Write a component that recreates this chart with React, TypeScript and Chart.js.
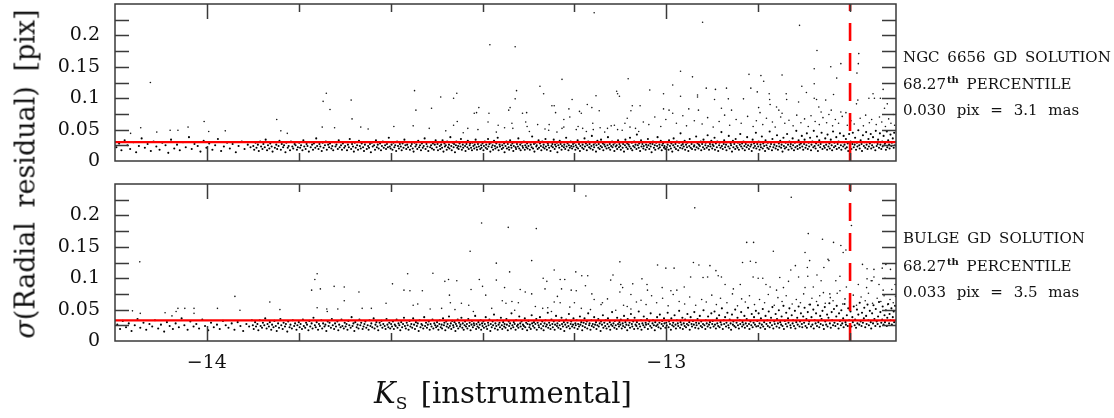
import React, { useEffect, useRef } from "react";
import { Chart, registerables } from "chart.js";

Chart.register(...registerables);

// ---- axis ranges and ticks ----
const X_MIN = -14.2;
const X_MAX = -12.5;
const Y_MIN = 0;
const Y_MAX = 0.25;
const X_LABEL_TICKS = [-14, -13];
const X_MINOR_TICKS = [-14.0, -13.8, -13.6, -13.4, -13.2, -13.0, -12.8, -12.6];
const Y_LABEL_TICKS = [0, 0.05, 0.1, 0.15, 0.2];
const Y_MINOR_TICKS = [0.025, 0.05, 0.075, 0.1, 0.125, 0.15, 0.175, 0.2, 0.225];

// ---- reference values ----
const TOP_PERCENTILE = 0.03;
const BOTTOM_PERCENTILE = 0.033;
const MAG_LIMIT = -12.6;

// packed points: pairs of [milli-mag offset from X_ORIGIN, sigma in milli-pix]
const X_ORIGIN = -14.2;

const TOP_BAND = [
  3,22, 9,28, 14,17, 21,33, 27,25, 33,19, 40,30, 46,14, 52,24, 58,36, 65,21, 71,27, 78,16, 84,31, 90,23, 97,18, 103,29, 110,25, 116,13, 122,34, 129,20, 135,26, 141,17, 148,30, 154,22, 161,38, 167,19, 173,27, 180,24, 186,15, 193,32, 199,21, 205,28, 212,18, 218,25, 224,35, 231,16, 237,23, 244,29, 250,20, 256,27, 263,14, 269,24, 276,31, 282,19, 289,26, 295,22,
  301,24, 303,18, 306,29, 308,21, 311,26, 313,16, 316,31, 318,23, 321,19, 323,27, 326,22, 328,34, 331,17, 333,25, 336,20, 338,28, 341,23, 343,15, 346,30, 348,21, 351,26, 353,19, 356,24, 358,32, 361,18, 363,27, 366,22, 368,25, 371,14, 373,29, 376,21, 378,24, 381,17, 383,31, 386,23, 388,20, 391,27, 393,25, 396,18, 398,22,
  401,29, 403,21, 405,25, 408,17, 410,33, 412,23, 415,19, 417,27, 419,24, 422,15, 424,30, 426,22, 429,26, 431,18, 433,28, 436,21, 438,36, 440,24, 443,19, 445,27, 447,23, 450,16, 452,29, 454,21, 457,25, 459,31, 461,18, 464,26, 466,22, 468,28, 471,20, 473,24, 475,17, 478,30, 480,23, 482,26, 485,19, 487,33, 489,22, 492,25, 494,18, 496,28, 499,21,
  501,24, 503,30, 505,17, 507,26, 509,22, 511,35, 514,19, 516,27, 518,23, 520,15, 522,29, 524,21, 527,25, 529,18, 531,32, 533,24, 535,20, 537,28, 540,22, 542,16, 544,26, 546,30, 548,19, 551,24, 553,21, 555,27, 557,14, 559,29, 561,23, 564,25, 566,18, 568,33, 570,22, 572,26, 574,20, 577,28, 579,17, 581,24, 583,31, 585,21, 588,25, 590,19, 592,27, 594,22, 596,37, 598,23,
  600,20, 602,26, 604,18, 606,29, 608,22, 610,25, 612,16, 614,31, 616,24, 618,20, 620,27, 622,23, 624,17, 626,28, 628,21, 630,34, 632,25, 634,19, 636,26, 638,22, 640,30, 642,18, 644,24, 646,27, 648,20, 650,15, 652,29, 654,23, 656,26, 658,19, 660,32, 662,22, 664,25, 666,17, 668,28, 670,21, 672,24, 674,36, 676,19, 678,27, 680,23, 682,16, 684,30, 686,22, 688,25, 690,20, 692,28, 694,18, 696,26, 698,33,
  700,22, 702,27, 703,17, 705,30, 707,24, 708,19, 710,26, 712,21, 713,33, 715,15, 717,28, 718,23, 720,25, 722,18, 723,31, 725,22, 727,26, 728,20, 730,38, 732,24, 733,17, 735,29, 737,22, 738,27, 740,14, 742,25, 743,31, 745,21, 747,24, 748,19, 750,28, 752,23, 753,35, 755,18, 757,26, 758,21, 760,30, 762,24, 763,16, 765,27, 767,22, 768,32, 770,19, 772,25, 773,28, 775,21, 777,17, 778,29, 780,24, 782,20, 783,26, 785,34, 787,22, 788,18, 790,27, 792,23, 793,30, 795,19, 797,25, 798,21,
  800,28, 802,17, 803,24, 805,31, 807,21, 808,26, 810,19, 812,35, 813,23, 815,27, 817,15, 818,29, 820,22, 822,25, 823,18, 825,32, 827,24, 828,20, 830,28, 832,22, 833,37, 835,17, 837,26, 838,23, 840,30, 842,19, 843,25, 845,21, 847,28, 848,14, 850,24, 852,31, 853,20, 855,27, 857,22, 858,18, 860,33, 862,25, 863,21, 865,28, 867,16, 868,24, 870,30, 872,22, 873,19, 875,27, 877,23, 878,36, 880,20, 882,26, 883,17, 885,29, 887,24, 888,21, 890,31, 892,18, 893,25, 895,22, 897,28, 898,20,
  900,24, 902,30, 903,18, 905,26, 907,22, 908,39, 910,20, 912,27, 913,15, 915,29, 917,23, 918,25, 920,19, 922,33, 923,21, 925,28, 927,24, 928,17, 930,31, 932,22, 933,26, 935,20, 937,35, 938,23, 940,18, 942,28, 943,25, 945,21, 947,30, 948,16, 950,24, 952,27, 953,22, 955,34, 957,19, 958,26, 960,23, 962,29, 963,14, 965,25, 967,21, 968,32, 970,27, 972,18, 973,24, 975,30, 977,22, 978,26, 980,19, 982,37, 983,23, 985,28, 987,17, 988,25, 990,21, 992,31, 993,24, 995,20, 997,27, 998,23,
  1000,29, 1002,18, 1003,25, 1005,22, 1007,33, 1008,20, 1010,27, 1012,16, 1013,24, 1015,30, 1017,21, 1018,26, 1020,19, 1022,36, 1023,23, 1025,28, 1027,17, 1028,25, 1030,31, 1032,22, 1033,27, 1035,20, 1037,24, 1038,40, 1040,18, 1042,26, 1043,22, 1045,29, 1047,15, 1048,25, 1050,32, 1052,21, 1053,27, 1055,19, 1057,24, 1058,34, 1060,22, 1062,28, 1063,17, 1065,26, 1067,23, 1068,30, 1070,20, 1072,25, 1073,38, 1075,21, 1077,27, 1078,18, 1080,24, 1082,31, 1083,22, 1085,26, 1087,16, 1088,29, 1090,23, 1092,25, 1093,19, 1095,33, 1097,22, 1098,27,
  1100,24, 1101,18, 1103,30, 1105,21, 1106,27, 1108,15, 1110,25, 1111,34, 1113,22, 1115,28, 1116,19, 1118,26, 1120,23, 1121,37, 1123,20, 1125,29, 1126,17, 1128,24, 1130,31, 1131,22, 1133,26, 1135,19, 1136,42, 1138,25, 1140,21, 1141,28, 1143,16, 1145,33, 1146,23, 1148,27, 1150,20, 1151,24, 1153,30, 1155,18, 1156,26, 1158,22, 1160,35, 1161,25, 1163,19, 1165,28, 1166,23, 1168,14, 1170,27, 1171,31, 1173,21, 1175,25, 1176,18, 1178,29, 1180,24, 1181,38, 1183,20, 1185,26, 1186,22, 1188,32, 1190,17, 1191,25, 1193,28, 1195,21, 1196,24, 1198,19,
  1200,30, 1201,22, 1203,26, 1205,18, 1206,33, 1208,24, 1210,20, 1211,28, 1213,15, 1215,25, 1216,36, 1218,22, 1220,27, 1221,19, 1223,31, 1225,24, 1226,17, 1228,29, 1230,21, 1231,44, 1233,25, 1235,20, 1236,27, 1238,23, 1240,32, 1241,18, 1243,26, 1245,22, 1246,29, 1248,16, 1250,24, 1251,35, 1253,21, 1255,27, 1256,19, 1258,30, 1260,23, 1261,25, 1263,18, 1265,39, 1266,22, 1268,28, 1270,20, 1271,26, 1273,24, 1275,31, 1276,17, 1278,27, 1280,22, 1281,34, 1283,19, 1285,25, 1286,29, 1288,21, 1290,41, 1291,24, 1293,18, 1295,27, 1296,23, 1298,32,
  1300,20, 1301,26, 1303,24, 1305,37, 1306,18, 1308,28, 1310,22, 1311,31, 1313,16, 1315,25, 1316,29, 1318,21, 1320,46, 1321,24, 1323,19, 1325,27, 1326,33, 1328,22, 1330,26, 1331,17, 1333,30, 1335,23, 1336,40, 1338,20, 1340,28, 1341,25, 1343,15, 1345,32, 1346,22, 1348,27, 1350,19, 1351,35, 1353,24, 1355,21, 1356,29, 1358,18, 1360,26, 1361,43, 1363,23, 1365,28, 1366,20, 1368,31, 1370,24, 1371,17, 1373,27, 1375,22, 1376,38, 1378,25, 1380,19, 1381,30, 1383,23, 1385,26, 1386,16, 1388,34, 1390,21, 1391,28, 1393,24, 1395,45, 1396,20, 1398,27,
  1400,23, 1401,31, 1403,18, 1405,26, 1406,22, 1408,39, 1410,20, 1411,28, 1413,24, 1415,16, 1416,33, 1418,25, 1420,21, 1421,29, 1423,19, 1425,47, 1426,23, 1428,27, 1430,17, 1431,35, 1433,22, 1435,26, 1436,30, 1438,20, 1440,24, 1441,41, 1443,18, 1445,28, 1446,23, 1448,32, 1450,21, 1451,26, 1453,15, 1455,37, 1456,24, 1458,20, 1460,29, 1461,22, 1463,43, 1465,26, 1466,18, 1468,31, 1470,23, 1471,27, 1473,20, 1475,36, 1476,25, 1478,17, 1480,29, 1481,22, 1483,48, 1485,24, 1486,19, 1488,33, 1490,26, 1491,21, 1493,28, 1495,40, 1496,23, 1498,18,
  1500,27, 1501,34, 1503,21, 1505,25, 1506,44, 1508,19, 1510,29, 1511,23, 1513,37, 1515,17, 1516,26, 1518,31, 1520,22, 1521,48, 1523,24, 1525,20, 1526,28, 1528,39, 1530,16, 1531,25, 1533,33, 1535,22, 1536,27, 1538,45, 1540,19, 1541,30, 1543,24, 1545,21, 1546,36, 1548,26, 1550,18, 1551,42, 1553,23, 1555,28, 1556,20, 1558,34, 1560,25, 1561,17, 1563,47, 1565,22, 1566,29, 1568,24, 1570,38, 1571,19, 1573,27, 1575,31, 1576,21, 1578,44, 1580,25, 1581,18, 1583,30, 1585,23, 1586,40, 1588,26, 1590,20, 1591,35, 1593,22, 1595,28, 1596,16, 1598,43,
  1600,24, 1601,31, 1603,19, 1605,27, 1606,45, 1608,22, 1610,26, 1611,37, 1613,18, 1615,29, 1616,23, 1618,49, 1620,25, 1621,20, 1623,33, 1625,27, 1626,16, 1628,41, 1630,24, 1631,30, 1633,21, 1635,46, 1636,26, 1638,19, 1640,35, 1641,23, 1643,28, 1645,43, 1646,20, 1648,25, 1650,38, 1651,22, 1653,30, 1655,17, 1656,48, 1658,24, 1660,27, 1661,34, 1663,21, 1665,44, 1666,26, 1668,19, 1670,31, 1671,23, 1673,40, 1675,25, 1676,28, 1678,18, 1680,47, 1681,22, 1683,33, 1685,26, 1686,20, 1688,42, 1690,24, 1691,29, 1693,36, 1695,21, 1696,45, 1698,25,
];

const TOP_SPARSE = [
  77,125, 56,53, 194,63, 137,49, 159,54, 120,49, 352,66, 460,108, 453,95, 468,82, 514,97, 516,67, 535,54, 451,54, 478,53, 240,48, 91,46, 34,44, 204,47, 361,48, 375,44, 551,51,
  1043,236, 816,185, 871,182, 973,130, 1117,131, 652,112, 744,108, 737,100, 709,102, 874,112, 871,99, 925,119, 933,107, 995,98, 1092,111, 1094,107, 1098,103, 655,81, 689,84, 782,76, 787,77, 792,85, 814,76, 860,85, 857,81, 951,88, 956,88, 959,77, 887,76, 896,77, 988,83, 990,70, 977,66, 1011,79, 1015,76, 1028,90, 1038,85, 1047,104, 1054,80, 1126,88, 1123,80, 1115,68, 1121,54, 607,55, 649,56, 684,52, 745,63, 737,57, 768,52, 812,62, 834,57, 864,60, 866,52, 894,62, 897,55, 920,58, 945,58, 944,49, 973,52, 977,54, 1004,50, 1018,52, 1040,60, 1041,50, 1072,52, 1087,57, 1094,50,
  1279,221, 1490,216, 1528,176, 1619,171, 1618,155, 1580,155, 1558,150, 1615,140, 1522,147, 1571,132, 1522,123, 1231,143, 1257,134, 1380,138, 1406,136, 1412,127, 1452,137, 1214,121, 1164,113, 1194,107, 1287,116, 1307,114, 1331,116, 1384,116, 1398,110, 1268,105, 1268,102, 1231,103, 1305,98, 1335,99, 1368,99, 1495,119, 1505,109, 1522,100, 1527,98, 1547,97, 1564,106, 1461,107, 1462,98, 1424,107, 1425,98, 1488,94, 1426,90, 1440,86, 1650,107, 1653,100, 1641,100, 1672,114, 1666,100, 1675,84, 1681,91, 1617,97, 1614,91, 1143,88, 1194,83, 1206,81, 1214,76, 1249,83, 1270,81, 1320,84, 1342,81, 1401,85, 1404,77, 1445,81, 1452,76, 1532,86, 1537,78, 1559,81, 1580,78, 1591,77,
  1150,62, 1162,58, 1175,70, 1188,55, 1199,66, 1222,60, 1236,72, 1244,56, 1261,64, 1278,59, 1290,69, 1302,54, 1315,63, 1327,73, 1338,57, 1352,66, 1363,60, 1377,71, 1389,55, 1396,64, 1410,58, 1418,68, 1431,62, 1437,54, 1449,70, 1458,60, 1467,65, 1476,56, 1484,73, 1493,61, 1501,67, 1509,55, 1515,72, 1524,63, 1533,58, 1541,69, 1549,61, 1554,74, 1562,56, 1568,66, 1575,60, 1583,71, 1594,57, 1602,64, 1609,59, 1622,68, 1629,56, 1634,73, 1642,61, 1647,66, 1657,58, 1664,70, 1669,62, 1677,55, 1684,67, 1689,60, 1694,74, 1697,57,
  720,48, 758,45, 790,50, 830,46, 848,53, 902,47, 936,51, 962,46, 1008,55, 1026,47, 1056,53, 1066,46, 1080,56, 1104,49, 1110,60, 1133,52, 1140,47,
];

const BOTTOM_BAND = [
  5,26, 11,19, 17,32, 24,22, 30,28, 36,16, 43,25, 49,35, 55,21, 62,29, 68,18, 75,27, 81,23, 87,33, 94,20, 100,26, 107,15, 113,30, 119,24, 126,19, 132,28, 139,22, 145,36, 151,25, 158,18, 164,31, 171,23, 177,27, 183,20, 190,34, 196,24, 203,17, 209,29, 215,22, 222,26, 228,19, 235,32, 241,25, 247,21, 254,28, 260,18, 267,30, 273,24, 279,16, 286,27, 292,23, 298,33,
  300,25, 302,19, 305,30, 307,23, 310,27, 312,17, 315,33, 317,24, 320,21, 322,29, 325,25, 327,36, 330,20, 332,27, 335,23, 337,30, 340,18, 342,26, 345,22, 347,32, 350,24, 352,16, 355,28, 357,21, 360,35, 362,25, 365,19, 367,29, 370,23, 372,27, 375,15, 377,31, 380,22, 382,26, 385,20, 387,33, 390,24, 392,28, 395,18, 397,25,
  400,30, 402,22, 404,27, 407,19, 409,34, 411,24, 414,21, 416,29, 418,26, 421,17, 423,32, 425,23, 428,28, 430,20, 432,37, 435,25, 437,22, 439,30, 442,18, 444,27, 446,24, 449,33, 451,20, 453,28, 456,23, 458,26, 460,16, 463,31, 465,24, 467,29, 470,21, 472,35, 474,25, 477,19, 479,28, 481,23, 484,31, 486,17, 488,26, 491,22, 493,34, 495,24, 498,20,
  500,29, 502,23, 504,27, 506,18, 508,32, 510,25, 513,21, 515,38, 517,24, 519,28, 521,16, 523,30, 526,22, 528,26, 530,20, 532,34, 534,25, 536,29, 539,19, 541,23, 543,27, 545,31, 547,21, 550,25, 552,18, 554,33, 556,24, 558,28, 560,22, 563,36, 565,20, 567,26, 569,30, 571,23, 573,17, 576,29, 578,25, 580,32, 582,21, 584,27, 587,24, 589,19, 591,35, 593,26, 595,22, 597,29, 599,20,
  601,27, 603,23, 605,31, 607,19, 609,26, 611,24, 613,34, 615,21, 617,28, 619,25, 621,17, 623,30, 625,22, 627,27, 629,37, 631,24, 633,20, 635,29, 637,25, 639,18, 641,32, 643,23, 645,27, 647,21, 649,36, 651,26, 653,19, 655,30, 657,24, 659,28, 661,16, 663,33, 665,22, 667,27, 669,25, 671,20, 673,38, 675,24, 677,29, 679,21, 681,26, 683,31, 685,18, 687,27, 689,23, 691,34, 693,20, 695,28, 697,25, 699,22,
  701,30, 702,24, 704,18, 706,27, 707,33, 709,22, 711,26, 712,20, 714,36, 716,25, 717,29, 719,17, 721,31, 722,23, 724,27, 726,21, 727,39, 729,24, 731,28, 732,19, 734,32, 736,25, 737,22, 739,30, 741,16, 742,27, 744,24, 746,34, 747,20, 749,29, 751,23, 752,26, 754,37, 756,21, 757,28, 759,18, 761,25, 762,31, 764,23, 766,27, 767,20, 769,35, 771,24, 772,29, 774,17, 776,26, 777,32, 779,22, 781,28, 782,25, 784,40, 786,19, 787,27, 789,23, 791,30, 792,21, 794,26, 796,33, 797,18, 799,28,
  800,24, 802,31, 803,21, 805,27, 807,38, 808,23, 810,19, 812,29, 813,25, 815,34, 817,16, 818,27, 820,22, 822,31, 823,25, 825,42, 827,20, 828,28, 830,24, 832,33, 833,18, 835,26, 837,29, 838,22, 840,37, 842,25, 843,19, 845,30, 847,23, 848,27, 850,21, 852,35, 853,26, 855,17, 857,31, 858,24, 860,28, 862,20, 863,44, 865,25, 867,22, 868,30, 870,27, 872,18, 873,33, 875,24, 877,26, 878,21, 880,39, 882,28, 883,23, 885,31, 887,19, 888,26, 890,24, 892,36, 893,22, 895,29, 897,17, 898,27,
  900,32, 902,22, 903,26, 905,19, 907,41, 908,28, 910,24, 912,30, 913,21, 915,27, 917,35, 918,18, 920,29, 922,25, 923,22, 925,38, 927,27, 928,20, 930,31, 932,24, 933,17, 935,28, 937,33, 938,23, 940,26, 942,45, 943,21, 945,29, 947,25, 948,19, 950,34, 952,27, 953,22, 955,31, 957,18, 958,26, 960,40, 962,24, 963,28, 965,21, 967,32, 968,25, 970,19, 972,37, 973,27, 975,23, 977,30, 978,16, 980,26, 982,34, 983,22, 985,29, 987,24, 988,43, 990,20, 992,27, 993,31, 995,23, 997,26, 998,36,
  1000,21, 1002,28, 1003,25, 1005,33, 1007,19, 1008,27, 1010,23, 1012,39, 1013,26, 1015,30, 1017,17, 1018,24, 1020,29, 1022,36, 1023,22, 1025,27, 1027,31, 1028,20, 1030,44, 1032,25, 1033,28, 1035,18, 1037,33, 1038,24, 1040,27, 1042,22, 1043,38, 1045,26, 1047,30, 1048,19, 1050,25, 1052,35, 1053,23, 1055,28, 1057,16, 1058,31, 1060,26, 1062,41, 1063,21, 1065,29, 1067,24, 1068,33, 1070,20, 1072,27, 1073,36, 1075,23, 1077,30, 1078,18, 1080,26, 1082,46, 1083,24, 1085,28, 1087,21, 1088,32, 1090,25, 1092,19, 1093,37, 1095,27, 1097,23, 1098,30,
  1100,26, 1101,34, 1103,20, 1105,28, 1106,24, 1108,40, 1110,22, 1111,30, 1113,26, 1115,17, 1116,35, 1118,25, 1120,29, 1121,21, 1123,43, 1125,27, 1126,23, 1128,31, 1130,19, 1131,37, 1133,26, 1135,24, 1136,30, 1138,20, 1140,47, 1141,27, 1143,23, 1145,33, 1146,18, 1148,28, 1150,25, 1151,39, 1153,22, 1155,29, 1156,26, 1158,35, 1160,19, 1161,27, 1163,31, 1165,24, 1166,44, 1168,21, 1170,28, 1171,33, 1173,25, 1175,17, 1176,30, 1178,24, 1180,38, 1181,26, 1183,22, 1185,29, 1186,42, 1188,20, 1190,27, 1191,32, 1193,24, 1195,36, 1196,28, 1198,21,
  1200,29, 1201,25, 1203,45, 1205,22, 1206,31, 1208,27, 1210,18, 1211,36, 1213,25, 1215,29, 1216,23, 1218,41, 1220,26, 1221,20, 1223,33, 1225,28, 1226,24, 1228,48, 1230,21, 1231,30, 1233,26, 1235,37, 1236,19, 1238,28, 1240,24, 1241,34, 1243,22, 1245,27, 1246,43, 1248,25, 1250,30, 1251,18, 1253,38, 1255,27, 1256,23, 1258,32, 1260,26, 1261,46, 1263,21, 1265,29, 1266,25, 1268,35, 1270,20, 1271,28, 1273,40, 1275,24, 1276,31, 1278,22, 1280,27, 1281,49, 1283,25, 1285,19, 1286,33, 1288,28, 1290,23, 1291,39, 1293,26, 1295,30, 1296,21, 1298,44,
  1300,27, 1301,32, 1303,23, 1305,47, 1306,26, 1308,20, 1310,36, 1311,28, 1313,24, 1315,41, 1316,22, 1318,30, 1320,26, 1321,52, 1323,19, 1325,33, 1326,27, 1328,38, 1330,23, 1331,29, 1333,45, 1335,25, 1336,21, 1338,34, 1340,28, 1341,18, 1343,42, 1345,26, 1346,31, 1348,24, 1350,50, 1351,22, 1353,29, 1355,37, 1356,25, 1358,20, 1360,33, 1361,27, 1363,46, 1365,23, 1366,30, 1368,26, 1370,40, 1371,21, 1373,28, 1375,35, 1376,24, 1378,53, 1380,27, 1381,19, 1383,31, 1385,25, 1386,43, 1388,22, 1390,29, 1391,38, 1393,26, 1395,48, 1396,23, 1398,32,
  1400,24, 1401,44, 1403,28, 1405,21, 1406,36, 1408,26, 1410,51, 1411,23, 1413,30, 1415,19, 1416,40, 1418,27, 1420,33, 1421,24, 1423,47, 1425,22, 1426,29, 1428,37, 1430,25, 1431,54, 1433,20, 1435,31, 1436,27, 1438,43, 1440,23, 1441,35, 1443,28, 1445,49, 1446,21, 1448,30, 1450,26, 1451,39, 1453,24, 1455,56, 1456,19, 1458,32, 1460,27, 1461,45, 1463,23, 1465,36, 1466,29, 1468,52, 1470,25, 1471,21, 1473,41, 1475,28, 1476,33, 1478,24, 1480,48, 1481,20, 1483,30, 1485,37, 1486,26, 1488,55, 1490,23, 1491,31, 1493,44, 1495,27, 1496,22, 1498,39,
  1500,29, 1501,53, 1503,24, 1505,35, 1506,21, 1508,46, 1510,27, 1511,31, 1513,58, 1515,23, 1516,38, 1518,26, 1520,50, 1521,20, 1523,33, 1525,28, 1526,44, 1528,24, 1530,57, 1531,30, 1533,22, 1535,40, 1536,27, 1538,35, 1540,48, 1541,25, 1543,19, 1545,54, 1546,31, 1548,26, 1550,42, 1551,23, 1553,37, 1555,60, 1556,28, 1558,21, 1560,46, 1561,33, 1563,25, 1565,51, 1566,29, 1568,24, 1570,39, 1571,56, 1573,27, 1575,20, 1576,44, 1578,32, 1580,25, 1581,49, 1583,28, 1585,36, 1586,22, 1588,59, 1590,30, 1591,26, 1593,41, 1595,24, 1596,52, 1598,33,
  1600,27, 1601,47, 1603,23, 1605,38, 1606,30, 1608,55, 1610,25, 1611,34, 1613,21, 1615,50, 1616,28, 1618,42, 1620,26, 1621,61, 1623,31, 1625,24, 1626,45, 1628,29, 1630,36, 1631,53, 1633,22, 1635,40, 1636,27, 1638,58, 1640,33, 1641,25, 1643,48, 1645,30, 1646,20, 1648,44, 1650,28, 1651,57, 1653,35, 1655,24, 1656,51, 1658,31, 1660,27, 1661,39, 1663,62, 1665,23, 1666,46, 1668,29, 1670,34, 1671,55, 1673,26, 1675,41, 1676,30, 1678,49, 1680,24, 1681,37, 1683,59, 1685,28, 1686,43, 1688,33, 1690,52, 1691,26, 1693,38, 1695,47, 1696,30, 1698,56,
];

const BOTTOM_SPARSE = [
  54,126, 440,107, 435,98, 428,81, 447,83, 477,87, 499,86, 531,78, 499,64, 261,71, 337,62, 272,49, 223,52, 38,48, 55,44, 137,52, 152,52, 172,52, 133,47, 172,44, 109,45, 124,40, 359,50, 440,53, 461,51, 462,47, 485,51, 538,52, 558,52,
  1025,231, 798,188, 856,181, 917,179, 773,143, 907,128, 830,124, 1099,126, 637,107, 692,108, 859,110, 956,113, 1003,110, 1016,104, 1029,104, 1084,105, 1079,97, 604,91, 718,95, 726,98, 744,96, 793,98, 830,97, 932,100, 940,95, 969,98, 979,98, 1127,91, 629,81, 642,80, 669,80, 775,82, 800,87, 807,73, 848,85, 882,82, 893,78, 907,75, 936,83, 963,71, 972,83, 993,81, 1004,80, 1024,88, 1038,75, 1101,90, 1105,85, 1099,78, 1123,74, 728,73, 754,60, 730,61, 590,60, 649,57, 659,59, 686,51, 711,52, 770,57, 843,64, 851,60, 864,63, 878,61, 931,52, 942,53, 956,62, 969,61, 1000,61, 1015,52, 1043,66, 1061,61, 1072,67, 1107,57, 1123,51,
  1472,229, 1262,212, 1603,184, 1509,171, 1540,162, 1564,157, 1580,152, 1591,145, 1585,141, 1375,157, 1390,157, 1433,143, 1502,141, 1512,128, 1552,130, 1554,128, 1259,125, 1271,121, 1366,125, 1383,127, 1395,125, 1181,121, 1199,116, 1217,116, 1295,120, 1308,112, 1471,113, 1481,120, 1507,117, 1543,117, 1627,122, 1637,115, 1652,114, 1670,116, 1678,122, 1688,114, 1147,99, 1253,102, 1280,101, 1290,102, 1313,104, 1320,102, 1389,102, 1400,100, 1410,100, 1447,101, 1466,95, 1488,102, 1508,103, 1528,105, 1537,96, 1569,96, 1578,103, 1637,99, 1646,96, 1652,102, 1663,90, 1676,100, 1158,90, 1159,81, 1191,85, 1210,80, 1223,81, 1239,86, 1328,90, 1346,83, 1361,90, 1417,90, 1426,86, 1440,81, 1455,85, 1502,85, 1520,86, 1542,77, 1556,75, 1578,80, 1592,86, 1618,90, 1636,85, 1648,96, 1672,81, 1691,82, 1698,90,
  1145,65, 1156,58, 1168,72, 1179,61, 1192,68, 1204,56, 1215,74, 1228,63, 1240,59, 1251,70, 1264,57, 1277,66, 1287,62, 1299,73, 1309,58, 1318,68, 1332,61, 1344,75, 1355,56, 1364,67, 1372,62, 1381,72, 1392,58, 1403,66, 1414,61, 1422,74, 1435,57, 1443,69, 1452,63, 1461,72, 1474,59, 1483,66, 1492,61, 1499,75, 1511,58, 1517,68, 1527,63, 1534,72, 1546,60, 1557,69, 1563,64, 1572,76, 1584,59, 1589,67, 1599,62, 1607,73, 1614,57, 1624,70, 1633,64, 1640,76, 1649,60, 1659,68, 1667,63, 1674,72, 1682,58, 1687,66, 1694,61, 1699,71,
  740,50, 780,47, 820,52, 870,49, 915,55, 950,47, 990,54, 1035,50, 1058,58, 1090,49, 1115,55, 1135,62,
];

const W = 1114;
const H = 418;
const FONT = "'DejaVu Serif', serif";

function unpack(arr: number[]) {
  const out: { x: number; y: number }[] = [];
  for (let i = 0; i + 1 < arr.length; i += 2) {
    out.push({ x: X_ORIGIN + arr[i] / 1000, y: arr[i + 1] / 1000 });
  }
  return out;
}

const framePlugin = {
  id: "frameTicks",
  afterDatasetsDraw(chart: any) {
    const { ctx, chartArea, scales } = chart;
    const { left, right, top, bottom } = chartArea;
    const x = scales.x;
    const y = scales.y;
    ctx.save();
    ctx.strokeStyle = "#3a3a3a";
    ctx.lineWidth = 1.5;
    ctx.strokeRect(left, top, right - left, bottom - top);
    ctx.beginPath();
    for (const v of X_MINOR_TICKS) {
      const px = Math.round(x.getPixelForValue(v)) + 0.5;
      const major = X_LABEL_TICKS.some((m) => Math.abs(m - v) < 1e-6);
      const len = major ? 15 : 8;
      ctx.moveTo(px, top);
      ctx.lineTo(px, top + len);
      ctx.moveTo(px, bottom);
      ctx.lineTo(px, bottom - len);
    }
    for (const v of Y_MINOR_TICKS) {
      const py = Math.round(y.getPixelForValue(v)) + 0.5;
      ctx.moveTo(left, py);
      ctx.lineTo(left + 14, py);
      ctx.moveTo(right, py);
      ctx.lineTo(right - 14, py);
    }
    ctx.stroke();
    ctx.restore();
  },
};

function makeConfig(opts: {
  band: number[];
  sparse: number[];
  percentile: number;
  padTop: number;
  xHeight: number;
  showX: boolean;
}) {
  return {
    type: "scatter" as const,
    data: {
      datasets: [
        {
          type: "line" as const,
          data: [
            { x: X_MIN, y: opts.percentile },
            { x: X_MAX, y: opts.percentile },
          ],
          borderColor: "#ff0000",
          borderWidth: 2.2,
          pointRadius: 0,
          fill: false,
        },
        {
          type: "line" as const,
          data: [
            { x: MAG_LIMIT, y: Y_MIN },
            { x: MAG_LIMIT, y: Y_MAX },
          ],
          borderColor: "#ff0000",
          borderWidth: 2.6,
          borderDash: [18, 12],
          pointRadius: 0,
          fill: false,
        },
        {
          data: unpack(opts.sparse),
          pointRadius: 0.8,
          pointBackgroundColor: "#151515",
          pointBorderWidth: 0,
          pointHoverRadius: 0,
        },
        {
          data: unpack(opts.band),
          pointRadius: 1.05,
          pointBackgroundColor: "#000",
          pointBorderWidth: 0,
          pointHoverRadius: 0,
        },
      ],
    },
    options: {
      animation: false,
      responsive: false,
      devicePixelRatio: 1,
      events: [],
      layout: { padding: { top: opts.padTop, right: W - 896, left: 0, bottom: 0 } },
      plugins: { legend: { display: false }, tooltip: { enabled: false }, title: { display: false } },
      scales: {
        x: {
          type: "linear",
          min: X_MIN,
          max: X_MAX,
          grid: { display: false, drawTicks: false },
          border: { display: false },
          afterBuildTicks: (s: any) => {
            s.ticks = X_LABEL_TICKS.map((v) => ({ value: v }));
          },
          afterFit: (s: any) => {
            s.height = opts.xHeight;
            s.paddingLeft = 0;
            s.paddingRight = 0;
            s.paddingTop = 0;
            s.paddingBottom = 0;
          },
          ticks: {
            display: opts.showX,
            padding: 11,
            color: "#111",
            font: { family: FONT, size: 19 },
            maxRotation: 0,
            callback: (v: number) => (v < 0 ? "\u2212" : "") + Math.abs(v),
          },
        },
        y: {
          type: "linear",
          min: Y_MIN,
          max: Y_MAX,
          grid: { display: false, drawTicks: false },
          border: { display: false },
          afterBuildTicks: (s: any) => {
            s.ticks = Y_LABEL_TICKS.map((v) => ({ value: v }));
          },
          afterFit: (s: any) => {
            s.width = 115;
            s.paddingLeft = 0;
            s.paddingRight = 0;
            s.paddingTop = 0;
            s.paddingBottom = 0;
          },
          ticks: {
            padding: 15,
            color: "#111",
            font: { family: FONT, size: 19 },
            callback: (v: number) => String(Math.round(v * 1000) / 1000),
          },
        },
      },
    },
    plugins: [framePlugin],
  };
}

const noteStyle: React.CSSProperties = {
  position: "absolute",
  left: 903,
  fontFamily: FONT,
  fontSize: 15,
  lineHeight: "15px",
  color: "#111",
  whiteSpace: "nowrap",
};
const supStyle: React.CSSProperties = {
  fontSize: 10,
  fontWeight: "bold",
  position: "relative",
  top: -6,
  marginLeft: 1,
};

export default function App() {
  const topRef = useRef<HTMLCanvasElement>(null);
  const botRef = useRef<HTMLCanvasElement>(null);

  useEffect(() => {
    const c1 = new Chart(
      topRef.current!,
      makeConfig({ band: TOP_BAND, sparse: TOP_SPARSE, percentile: TOP_PERCENTILE, padTop: 4, xHeight: H - 161, showX: false }) as any
    );
    const c2 = new Chart(
      botRef.current!,
      makeConfig({ band: BOTTOM_BAND, sparse: BOTTOM_SPARSE, percentile: BOTTOM_PERCENTILE, padTop: 184, xHeight: H - 341, showX: true }) as any
    );
    return () => {
      c1.destroy();
      c2.destroy();
    };
  }, []);

  return (
    <div style={{ position: "absolute", left: 0, top: 0, width: W, height: H, background: "#fff", overflow: "hidden" }}>
      <canvas ref={topRef} width={W} height={H} style={{ position: "absolute", left: 0, top: 0 }} />
      <canvas ref={botRef} width={W} height={H} style={{ position: "absolute", left: 0, top: 0 }} />

      <div
        style={{
          position: "absolute",
          left: 25,
          top: 174,
          transform: "translate(-50%, -50%) rotate(-90deg)",
          fontFamily: FONT,
          fontSize: 27,
          lineHeight: "27px",
          whiteSpace: "nowrap",
          color: "#111",
          wordSpacing: 6,
        }}
      >
        <i>σ</i>(Radial residual) [pix]
      </div>

      <div
        style={{
          position: "absolute",
          left: 503,
          top: 379,
          transform: "translateX(-50%)",
          fontFamily: FONT,
          fontSize: 29,
          lineHeight: "29px",
          whiteSpace: "nowrap",
          color: "#111",
          wordSpacing: 4,
        }}
      >
        <i>K</i>
        <span style={{ fontSize: 17, position: "relative", top: 6 }}>S</span> [instrumental]
      </div>

      <div style={{ ...noteStyle, top: 50, wordSpacing: 3 }}>NGC 6656 GD SOLUTION</div>
      <div style={{ ...noteStyle, top: 77, wordSpacing: 3 }}>
        68.27<span style={supStyle}>th</span> PERCENTILE
      </div>
      <div style={{ ...noteStyle, top: 103, wordSpacing: 6 }}>0.030 pix = 3.1 mas</div>

      <div style={{ ...noteStyle, top: 231, wordSpacing: 3 }}>BULGE GD SOLUTION</div>
      <div style={{ ...noteStyle, top: 259, wordSpacing: 3 }}>
        68.27<span style={supStyle}>th</span> PERCENTILE
      </div>
      <div style={{ ...noteStyle, top: 285, wordSpacing: 6 }}>0.033 pix = 3.5 mas</div>
    </div>
  );
}
